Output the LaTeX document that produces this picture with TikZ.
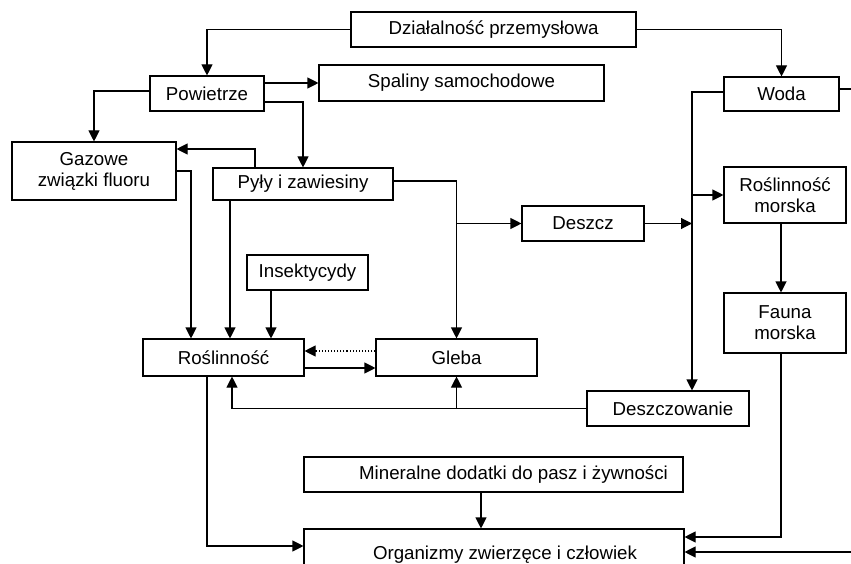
\documentclass[tikz,border=0pt]{standalone}
\usepackage{fontspec}
\setmainfont{Liberation Sans}
\usetikzlibrary{arrows.meta,calc}
\tikzset{
  box/.style={draw, line width=1.1pt, rectangle, inner sep=0pt, align=center, font=\fontsize{18.7}{21}\selectfont},
  arr/.style={line width=1.1pt, -{Triangle[length=11pt,width=11pt]}},
  ln/.style={line width=1.1pt},
}
\begin{document}
\begin{tikzpicture}[x=1pt,y=-1pt]
\useasboundingbox (0,0) rectangle (851,564);
\clip (0,0) rectangle (851,564);
% nodes
\node[box, minimum width=285pt, minimum height=35pt] (dzial) at (493.5,29.5) {Działalność przemysłowa};
\node[box, minimum width=114pt, minimum height=35pt] (pow) at (207,93.5) {Powietrze};
\node[box, minimum width=285pt, minimum height=36pt] (spal) at (461.5,83) {Spaliny samochodowe};
\node[box, minimum width=115pt, minimum height=34pt] (woda) at (781.5,94) {Woda};
\node[box, minimum width=164pt, minimum height=58pt] (gaz) at (94,171) {Gazowe\\związki fluoru};
\node[box, minimum width=180pt, minimum height=32pt] (pyly) at (303,184) {Pyły i zawiesiny};
\node[box, minimum width=122pt, minimum height=35pt] (deszcz) at (583,223.5) {Deszcz};
\node[box, minimum width=122pt, minimum height=56pt] (rmors) at (785,195) {Roślinność\\morska};
\node[box, minimum width=121pt, minimum height=35pt] (insekt) at (307.5,272.5) {Insektycydy};
\node[box, minimum width=122pt, minimum height=60pt] (fauna) at (785,323) {Fauna\\morska};
\node[box, minimum width=161pt, minimum height=37pt] (rosl) at (223.5,357.5) {Roślinność};
\node[box, minimum width=161pt, minimum height=37pt] (gleba) at (456.5,357.5) {Gleba};
\node[box, minimum width=162pt, minimum height=35pt] (deszczow) at (668,408.5) {\hspace*{10pt}Deszczowanie};
\node[box, minimum width=379pt, minimum height=35pt] (miner) at (493.5,474.5) {\hspace*{40pt}Mineralne dodatki do pasz i żywności};
\node[box, minimum width=380pt, minimum height=51pt] (org) at (494,554.5) {\hspace*{22pt}Organizmy zwierzęce i człowiek};
\coordinate (vx) at (692,0);
\coordinate (edgeA) at (851,89);
\coordinate (edgeB) at (851,552);
% connectors
\draw[arr] (dzial.west) -| (pow.north);
\draw[arr] (dzial.east) -| (woda.north);
\draw[arr] (pow.east |- spal.west) -- (spal.west);
\draw[arr] (pow.east |- 0,102) -| (pyly.north);
\draw[arr] (pow.west |- 0,91) -| (gaz.north);
\draw[arr] (pyly.north -| 255,0) |- (gaz.east |- 0,149);
\draw[arr] (gaz.east) -| (rosl.north -| 191,0);
\draw[arr] (pyly.south -| 230,0) -- (rosl.north -| 230,0);
\draw[arr] (insekt.south -| 271,0) -- (rosl.north -| 271,0);
\draw[arr] (pyly.east |- 0,181) -| (gleba.north);
\draw[arr] (gleba.north |- deszcz.west) -- (deszcz.west);
\draw[arr] (deszcz.east) -- (deszcz.east -| vx);
\draw[arr] (woda.west |- 0,92) -| (deszczow.north -| vx);
\draw[arr] (rmors.west -| vx) -- (rmors.west);
\draw[arr] (rmors.south -| 781,0) -- (fauna.north -| 781,0);
\draw[arr] (fauna.south -| 781,0) |- (org.east |- 0,537);
\draw[arr] (edgeB) -- (org.east |- edgeB);
\draw[ln] (woda.east |- edgeA) -- (edgeA);
\draw[line width=1.1pt, dotted, -{Triangle[length=11pt,width=11pt]}] (gleba.west |- 0,351) -- (rosl.east |- 0,351);
\draw[arr] (rosl.east |- 0,368) -- (gleba.west |- 0,368);
\draw[arr] (deszczow.west) -| (rosl.south -| 232,0);
\draw[arr] (gleba.south |- deszczow.west) -- (gleba.south);
\draw[arr] (rosl.south -| 207,0) |- (org.west |- 0,546);
\draw[arr] (miner.south -| 481,0) -- (org.north -| 481,0);
\end{tikzpicture}
\end{document}
